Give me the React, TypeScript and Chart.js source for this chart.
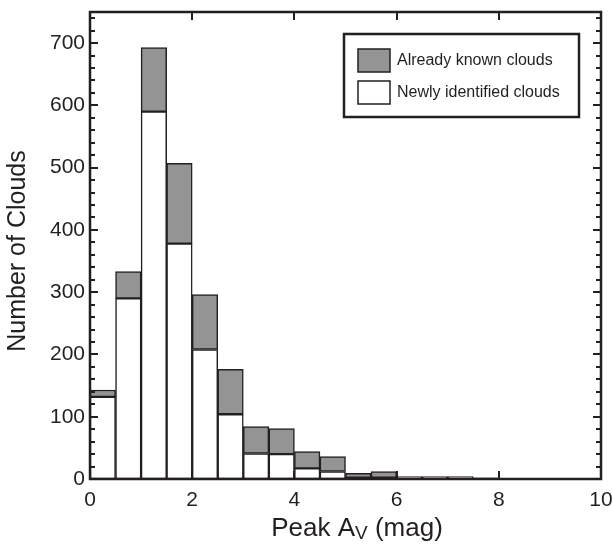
import React, { useEffect, useRef } from "react";
import { Chart, registerables } from "chart.js";

Chart.register(...registerables);

// Histogram bins of Peak Av (width 0.5 mag), bin centres
const binCenters = [0.25, 0.75, 1.25, 1.75, 2.25, 2.75, 3.25, 3.75, 4.25, 4.75, 5.25, 5.75, 6.25, 6.75, 7.25, 7.75, 8.25, 8.75, 9.25, 9.75];
const newlyIdentified = [132, 290, 590, 378, 208, 104, 41, 40, 17, 12, 2, 2, 1, 1, 1, 0, 0, 0, 0, 0];
const alreadyKnown = [11, 43, 103, 129, 88, 72, 43, 41, 27, 24, 7, 10, 3, 3, 3, 2, 1, 0, 0, 1];
const legendLabels = ["Already known clouds", "Newly identified clouds"];
const xTitleParts = ["Peak A", "V", " (mag)"];
const yTitle = "Number of Clouds";

const FONT = "'Liberation Sans', Arial, Helvetica, sans-serif";
const INK = "#231f20";
const GRAY = "#949494";

const decorPlugin = {
  id: "decor",
  afterDatasetsDraw(chart: any) {
    const { ctx, chartArea: a, scales } = chart;
    const xs = scales.x;
    const ys = scales.y;
    ctx.save();
    ctx.strokeStyle = INK;
    // ticks
    ctx.lineWidth = 2;
    for (let v = 0; v <= 740; v += 20) {
      const y = Math.round(ys.getPixelForValue(v));
      const len = v % 100 === 0 ? 8 : 5;
      ctx.beginPath();
      ctx.moveTo(a.left, y);
      ctx.lineTo(a.left + len, y);
      ctx.moveTo(a.right, y);
      ctx.lineTo(a.right - len, y);
      ctx.stroke();
    }
    for (let v = 2; v <= 8; v += 2) {
      const x = Math.round(xs.getPixelForValue(v));
      ctx.beginPath();
      ctx.moveTo(x, a.bottom);
      ctx.lineTo(x, a.bottom - 8);
      ctx.moveTo(x, a.top);
      ctx.lineTo(x, a.top + 8);
      ctx.stroke();
    }
    // frame
    ctx.lineWidth = 2.5;
    ctx.strokeRect(a.left, a.top, a.right - a.left, a.bottom - a.top);

    // legend
    ctx.lineWidth = 2.5;
    ctx.fillStyle = "#ffffff";
    ctx.fillRect(344, 34, 235, 83);
    ctx.strokeRect(344, 34, 235, 83);
    ctx.lineWidth = 1.5;
    const fills = [GRAY, "#ffffff"];
    const rows = [49, 81];
    ctx.font = `16px ${FONT}`;
    ctx.textBaseline = "middle";
    ctx.textAlign = "left";
    for (let i = 0; i < 2; i++) {
      ctx.fillStyle = fills[i];
      ctx.fillRect(358, rows[i], 32, 23);
      ctx.strokeRect(358, rows[i], 32, 23);
      ctx.fillStyle = INK;
      ctx.fillText(legendLabels[i], 397, rows[i] + 12);
    }

    // y title
    ctx.save();
    ctx.translate(18, 251);
    ctx.rotate(-Math.PI / 2);
    ctx.font = `25px ${FONT}`;
    ctx.textAlign = "center";
    ctx.textBaseline = "middle";
    ctx.fillStyle = INK;
    ctx.fillText(yTitle, 0, 0);
    ctx.restore();

    // x title with subscript
    ctx.fillStyle = INK;
    ctx.textBaseline = "alphabetic";
    ctx.textAlign = "left";
    const big = `26px ${FONT}`;
    const small = `19px ${FONT}`;
    ctx.font = big;
    const w0 = ctx.measureText(xTitleParts[0]).width;
    const w2 = ctx.measureText(xTitleParts[2]).width;
    ctx.font = small;
    const w1 = ctx.measureText(xTitleParts[1]).width;
    const total = w0 + w1 + w2;
    let x = 357 - total / 2;
    const base = 536;
    ctx.font = big;
    ctx.fillText(xTitleParts[0], x, base);
    x += w0;
    ctx.font = small;
    ctx.fillText(xTitleParts[1], x, base + 3);
    x += w1;
    ctx.font = big;
    ctx.fillText(xTitleParts[2], x, base);
    ctx.restore();
  },
};

export default function App() {
  const ref = useRef<HTMLCanvasElement>(null);
  useEffect(() => {
    if (!ref.current) return;
    const chart = new Chart(ref.current, {
      type: "bar",
      data: {
        datasets: [
          {
            label: legendLabels[1],
            data: binCenters.map((c, i) => ({ x: c, y: newlyIdentified[i] })),
            backgroundColor: "#ffffff",
            borderColor: INK,
            borderWidth: 1.5,
            borderSkipped: false,
            barPercentage: 1,
            categoryPercentage: 1,
          },
          {
            label: legendLabels[0],
            data: binCenters.map((c, i) => ({ x: c, y: alreadyKnown[i] })),
            backgroundColor: GRAY,
            borderColor: INK,
            borderWidth: 1.5,
            borderSkipped: false,
            barPercentage: 1,
            categoryPercentage: 1,
          },
        ],
      },
      options: {
        responsive: false,
        animation: false,
        devicePixelRatio: 1,
        layout: { padding: { top: 12, right: 12, left: 0, bottom: 0 } },
        plugins: { legend: { display: false }, tooltip: { enabled: false } },
        scales: {
          x: {
            type: "linear",
            min: 0,
            max: 10,
            offset: false,
            stacked: true,
            grid: { display: false, drawTicks: false },
            border: { display: false },
            ticks: {
              stepSize: 2,
              padding: 9,
              color: INK,
              font: { family: FONT, size: 21 },
              maxRotation: 0,
            },
            afterFit: (s: any) => {
              s.height = 65;
              s.paddingLeft = 0;
              s.paddingRight = 0;
            },
          },
          y: {
            min: 0,
            max: 750,
            stacked: true,
            grid: { display: false, drawTicks: false },
            border: { display: false },
            ticks: {
              stepSize: 100,
              padding: 5,
              color: INK,
              font: { family: FONT, size: 21 },
            },
            afterBuildTicks: (s: any) => {
              s.ticks = s.ticks.filter((t: any) => t.value % 100 === 0);
            },
            afterFit: (s: any) => {
              s.width = 90;
              s.paddingTop = 0;
              s.paddingBottom = 0;
            },
          },
        },
      },
      plugins: [decorPlugin],
    } as any);
    return () => chart.destroy();
  }, []);
  return (
    <div style={{ position: "absolute", left: 0, top: 0, width: 613, height: 544, background: "#fff" }}>
      <canvas ref={ref} width={613} height={544} />
    </div>
  );
}
